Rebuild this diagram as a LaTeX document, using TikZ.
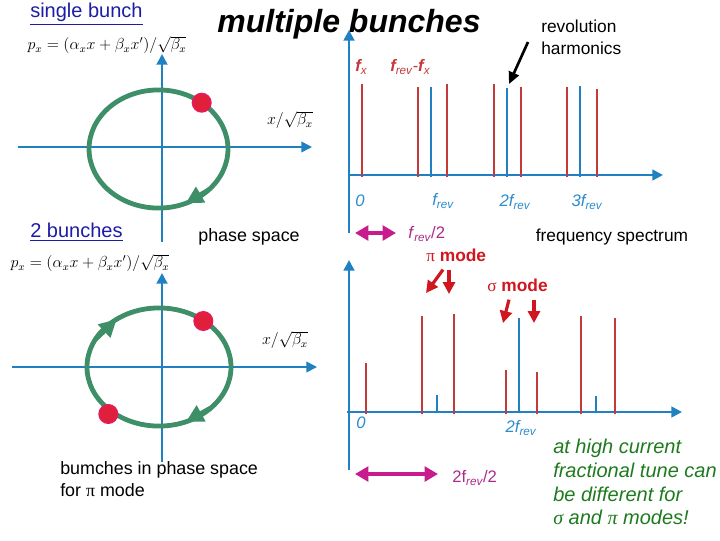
\documentclass[tikz,border=0pt]{standalone}
\usepackage{fontspec}
\setmainfont{Liberation Sans}
\newfontfamily\grkfont{Liberation Serif}
\usepackage{tikz}
\usetikzlibrary{arrows.meta,calc}
\definecolor{AxisBlue}{HTML}{1F80C2}
\definecolor{LabelBlue}{HTML}{2A8CCB}
\definecolor{RingGreen}{HTML}{3E8E68}
\definecolor{LineRed}{HTML}{C23A3A}
\definecolor{DotRed}{HTML}{E0203A}
\definecolor{ModeRed}{HTML}{D0161E}
\definecolor{SpanMag}{HTML}{C81B8C}
\definecolor{SpanText}{HTML}{AA2A8C}
\definecolor{LinkBlue}{HTML}{1C1CA8}
\definecolor{NoteGreen}{HTML}{1E7A1E}
\tikzset{
  haxis/.style={AxisBlue,line width=1.2pt,-{Triangle[length=8pt,width=8pt]}},
  vaxis/.style={AxisBlue,line width=2.2pt,-{Triangle[length=8pt,width=8pt]}},
  ring/.style={RingGreen,line width=3.6pt},
  ringtip/.style={RingGreen,line width=3.6pt,-{Triangle[length=13pt,width=13pt]}},
  bunch/.style={circle,fill=DotRed,draw=DotRed!80!magenta,line width=1pt,minimum size=14pt,inner sep=0pt},
  redline/.style={LineRed,line width=2.2pt},
  blueline/.style={AxisBlue,line width=1.9pt},
  txt/.style={inner sep=0pt,font=\fontsize{13.4}{16}\selectfont},
  link/.style={inner sep=0pt,text=LinkBlue,font=\fontsize{15}{18}\selectfont},
  formula/.style={inner sep=0pt,font=\fontsize{11.5}{14}\selectfont},
  flabel/.style={inner sep=0pt,text=LabelBlue,font=\fontsize{12.5}{14}\selectfont\itshape},
  fred/.style={inner sep=0pt,text=LineRed,font=\fontsize{12.5}{14}\selectfont\itshape},
  fmag/.style={inner sep=0pt,text=SpanText,font=\fontsize{12.5}{14}\selectfont},
  modetxt/.style={inner sep=0pt,text=ModeRed,font=\fontsize{13}{16}\selectfont},
  span/.style={SpanMag,line width=3pt,{Triangle[length=10pt,width=11pt]}-{Triangle[length=10pt,width=11pt]}},
  pointer/.style={black,line width=2pt,-{Triangle[length=9pt,width=8pt]}},
  modearr/.style={ModeRed,line width=2.4pt,-{Triangle[length=9pt,width=9pt]}},
}

\begin{document}
\begin{tikzpicture}[x=0.75pt,y=-0.75pt]
\useasboundingbox (0,0) rectangle (720,540);

% phase space, single bunch
\coordinate (ringA) at (158.5,149);
\draw[haxis] (18,147) -- (312,147);
\draw[vaxis] (162,242) -- (162,54);
\draw[ring] (ringA) ellipse [x radius=52.1pt, y radius=44.3pt];
\draw[ringtip] ($(ringA)+({69.5*cos(44)},{59*sin(44)})$) -- ($(ringA)+({69.5*cos(67)},{59*sin(67)})$);
\node[bunch] (dotA) at (201.7,102.7) {};

\node[link,anchor=west] (single) at (30,14) {\underline{single bunch}};
\node[formula] (pxA) at (107,45) {$p_x=\bigl(\alpha_x x+\beta_x x'\bigr)/\sqrt{\beta_x}$};
\node[formula] (xA) at (290,120) {$x/\sqrt{\beta_x}$};
\node[inner sep=0pt,font=\fontsize{24}{28}\selectfont\bfseries\itshape] (title) at (349,24) {multiple bunches};

% phase space, 2 bunches
\coordinate (ringB) at (159,367);
\draw[haxis] (12,367) -- (317,367);
\draw[vaxis] (162,462) -- (162,273);
\draw[ring] (ringB) ellipse [x radius=54pt, y radius=44.3pt];
\draw[ringtip] ($(ringB)+({72*cos(44)},{59*sin(44)})$) -- ($(ringB)+({72*cos(68)},{59*sin(68)})$);
\draw[ringtip] ($(ringB)+({72*cos(208)},{59*sin(208)})$) -- ($(ringB)+({72*cos(234)},{59*sin(234)})$);
\node[bunch] (dotB) at (203.3,321) {};
\node[bunch] (dotC) at (108.3,414) {};

\node[link,anchor=west] (two) at (30,232) {\underline{2 bunches}};
\node[txt] (phase) at (249,237) {phase space};
\node[formula] (pxB) at (90,263) {$p_x=\bigl(\alpha_x x+\beta_x x'\bigr)/\sqrt{\beta_x}$};
\node[formula] (xB) at (285,340) {$x/\sqrt{\beta_x}$};
\node[txt,anchor=west,align=left] (pimodeps) at (60,479) {bumches in phase space\\for {\grkfont π} mode};

% spectrum, single bunch
\draw[vaxis] (349,233) -- (349,30);
\draw[vaxis,line width=1.8pt] (348,175) -- (663,175);
\foreach \x/\t in {362/84,418/87,447/84,494/84,521/87,567/87,597/89}
  \draw[redline] (\x,177) -- (\x,\t);
\foreach \x/\t in {431/87,507/88,580/86}
  \draw[blueline] (\x,177) -- (\x,\t);

\node[fred,anchor=west] (fx) at (355,67) {{\bfseries f}\textsubscript{x}};
\node[fred,anchor=west] (frevfx) at (390,67) {{\bfseries f}\textsubscript{rev}-{\bfseries f}\textsubscript{x}};
\node[flabel] (zeroA) at (360,201) {0};
\node[flabel] (frevA) at (443,201) {f\textsubscript{rev}};
\node[flabel] (twofA) at (515,202) {2f\textsubscript{rev}};
\node[flabel] (threefA) at (587,202) {3f\textsubscript{rev}};

\node[txt,anchor=west,align=left,font=\fontsize{13}{16.5}\selectfont] (revh) at (541,37) {revolution\\harmonics};
\coordinate (revtip) at (509,84);
\draw[pointer] ($(revh.west)+(-13,5)$) -- (revtip);

\coordinate (spanA) at (355,233);
\node[fmag,anchor=west] (halfA) at (408,234) {\textit{f}\textsubscript{\itshape rev}/2};
\draw[span] (spanA) -- ($(halfA.west)+(-12,-1)$);
\node[txt,font=\fontsize{13}{16}\selectfont] (freq) at (612,237) {frequency spectrum};

% spectrum, 2 bunches
\draw[vaxis] (349,470) -- (349,260);
\draw[vaxis,line width=1.8pt] (347,412) -- (682,412);
\foreach \x/\t in {366/363,422/316,454/314,506/370,537/372,581/316,615/318}
  \draw[redline] (\x,414) -- (\x,\t);
\foreach \x/\t in {437/395,519/318,596/396}
  \draw[blueline] (\x,413) -- (\x,\t);

\node[modetxt,anchor=west] (pimode) at (426,255) {{\grkfont π} \textbf{mode}};
\node[modetxt,anchor=west] (sigmode) at (487,285) {{\grkfont σ} \textbf{mode}};
\coordinate (piA) at (426,293);
\coordinate (piB) at (449,294);
\coordinate (sigA) at (503,323);
\coordinate (sigB) at (534,323);
\draw[modearr] ($(pimode.south west)+(17,8)$) -- (piA);
\draw[modearr] ($(pimode.south west)+(23,8)$) -- (piB);
\draw[modearr] ($(sigmode.south west)+(22,8)$) -- (sigA);
\draw[modearr] ($(sigmode.south west)+(47,8)$) -- (sigB);

\node[flabel] (zeroB) at (361,423) {0};
\node[flabel] (twofB) at (521,428) {2f\textsubscript{rev}};

\coordinate (spanB) at (355,474);
\node[fmag,anchor=west] (halfB) at (452,478) {2f\textsubscript{\itshape rev}/2};
\draw[span] (spanB) -- ($(halfB.west)+(-14,-4)$);

\node[inner sep=0pt,anchor=west,align=left,text=NoteGreen,font=\fontsize{15}{17.8}\selectfont\itshape] (note) at (553,482)
  {at high current\\fractional tune can\\be different for\\{\grkfont\itshape σ} and {\grkfont\itshape π} modes!};
\end{tikzpicture}
\end{document}
